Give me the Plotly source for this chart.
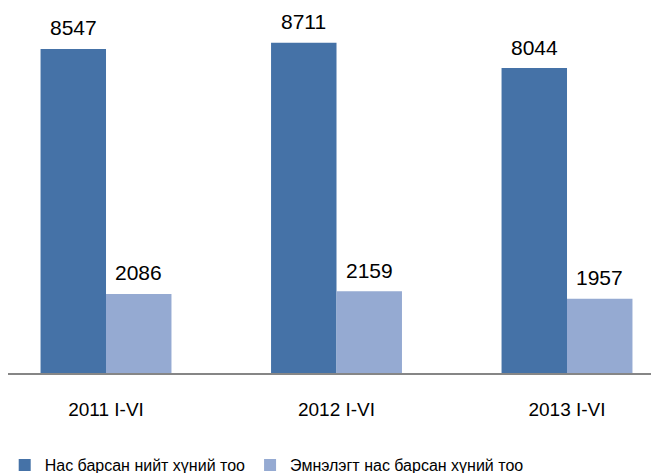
import plotly.graph_objects as go

categories = ["2011 I-VI", "2012 I-VI", "2013 I-VI"]
series_names = ["Нас барсан нийт хүний тоо", "Эмнэлэгт нас барсан хүний тоо"]
total_deaths = [8547, 8711, 8044]
hospital_deaths = [2086, 2159, 1957]
colors = ["#4572A7", "#95AAD2"]

BARGAP = 0.432
bar_w = (1 - BARGAP) / 2

fig = go.Figure()
for i, (name, vals, col) in enumerate(zip(series_names, [total_deaths, hospital_deaths], colors)):
    fig.add_trace(go.Bar(
        x=list(range(len(categories))), y=vals, name=name,
        marker=dict(color=col, line=dict(width=0)),
        hoverinfo="x+y",
    ))
    for j, v in enumerate(vals):
        fig.add_annotation(
            x=j + (i - 0.5) * bar_w, y=v, xref="x", yref="y",
            text=str(v), showarrow=False, yanchor="middle", yshift=21,
            font=dict(size=21, color="#000000", family="Liberation Sans, Arial"),
        )

fig.update_layout(
    width=659, height=465,
    margin=dict(l=0, r=0, t=0, b=100, autoexpand=False),
    paper_bgcolor="white", plot_bgcolor="white",
    barmode="group", bargap=BARGAP, bargroupgap=0,
    font=dict(family="Liberation Sans, Arial", color="#000000"),
    showlegend=True,
    legend=dict(orientation="h", x=-0.005, xanchor="left", y=-0.252, yanchor="middle",
                font=dict(size=16, family="Liberation Sans, Arial"),
                itemwidth=30, tracegroupgap=0, bgcolor="rgba(0,0,0,0)"),
    xaxis=dict(
        range=[-0.4252, 2.4338], tickmode="array", tickvals=list(range(len(categories))),
        ticktext=categories, tickfont=dict(size=19), showline=True, linecolor="#868686",
        linewidth=1.5, ticks="", showgrid=False, zeroline=False, ticklabelstandoff=18,
        automargin=False,
    ),
    yaxis=dict(range=[0, 9628], visible=False, showgrid=False, zeroline=False,
               automargin=False),
)

fig.write_html("out.html")
